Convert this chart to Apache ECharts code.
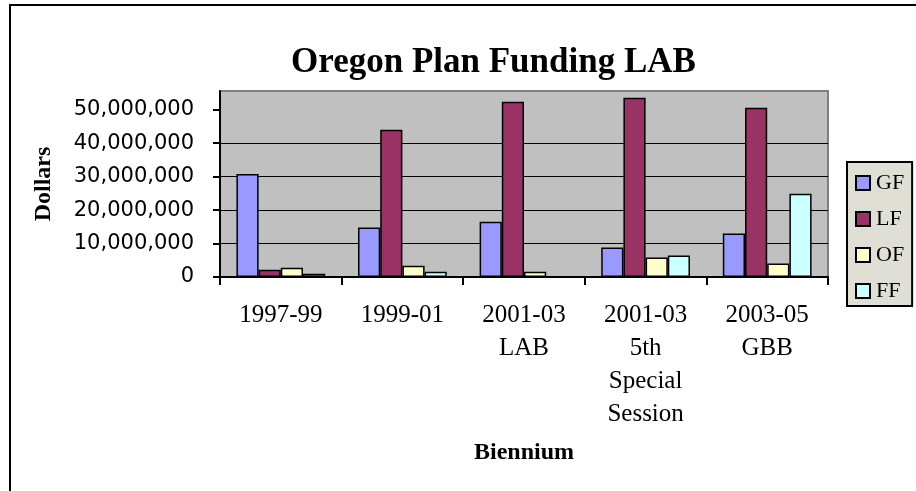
<!DOCTYPE html>
<html>
<head>
<meta charset="utf-8">
<script src="https://cdn.jsdelivr.net/npm/echarts@6/dist/echarts.min.js"></script>
<style>
  html, body { margin: 0; padding: 0; background: #fff; }
  #chart { width: 916px; height: 491px; }
</style>
</head>
<body>
<div id="chart"></div>
<script>
const categories = ['1997-99', '1999-01', '2001-03\nLAB', '2001-03\n5th\nSpecial\nSession', '2003-05\nGBB'];
const seriesNames = ['GF', 'LF', 'OF', 'FF'];
const gf = [30800000, 14800000, 16500000, 8800000, 13000000];
const lf = [2200000, 44000000, 52400000, 53600000, 50600000];
const of = [2800000, 3400000, 1600000, 5800000, 4000000];
const ff = [1000000, 1600000, 0, 6400000, 24900000];
const yTicks = [0, 10000000, 20000000, 30000000, 40000000, 50000000];

const colors = ['#9999ff', '#993366', '#ffffcc', '#ccffff'];
const serif = '"Liberation Serif", "Times New Roman", serif';

const chart = echarts.init(document.getElementById('chart'));

const makeSeries = (name, data, i) => ({
  name: name,
  type: 'bar',
  data: data,
  barGap: '0%',
  barCategoryGap: '27%',
  itemStyle: { color: colors[i], borderColor: '#000', borderWidth: 1.5 }
});

const option = {
  animation: false,
  backgroundColor: '#fff',
  graphic: [{
    type: 'rect',
    shape: { x: 10, y: 5, width: 1000, height: 1000 },
    style: { fill: 'none', stroke: '#000', lineWidth: 2 },
    silent: true
  }],
  title: {
    text: 'Oregon Plan Funding LAB',
    left: 286,
    top: 40,
    textStyle: { fontFamily: serif, fontSize: 35, fontWeight: 'bold', color: '#000' }
  },
  legend: {
    orient: 'vertical',
    left: 847,
    top: 162,
    padding: [10, 8, 4, 8],
    itemWidth: 14,
    itemHeight: 14,
    itemGap: 14,
    icon: 'rect',
    backgroundColor: '#e0dfd6',
    borderColor: '#000',
    borderWidth: 2,
    data: seriesNames,
    textStyle: { fontFamily: serif, fontSize: 22, color: '#000', padding: [0, 0, 0, 1] }
  },
  grid: {
    show: true,
    left: 220,
    top: 91,
    width: 608,
    height: 186,
    backgroundColor: '#c0c0c0',
    borderColor: '#808080',
    borderWidth: 2
  },
  xAxis: {
    type: 'category',
    data: categories,
    name: 'Biennium',
    nameLocation: 'middle',
    nameGap: 164,
    nameTextStyle: { fontFamily: serif, fontSize: 24, fontWeight: 'bold', color: '#000' },
    axisLine: { lineStyle: { color: '#000', width: 2 } },
    axisTick: { show: true, length: 8, lineStyle: { color: '#000', width: 2 } },
    axisLabel: {
      interval: 0,
      margin: 22,
      fontFamily: serif,
      fontSize: 25,
      lineHeight: 33,
      color: '#000'
    }
  },
  yAxis: {
    type: 'value',
    min: 0,
    max: 55600000,
    interval: 10000000,
    name: 'Dollars',
    nameLocation: 'middle',
    nameGap: 164,
    nameTextStyle: { fontFamily: serif, fontSize: 24, fontWeight: 'bold', color: '#000' },
    axisLine: { show: true, lineStyle: { color: '#000', width: 2 } },
    axisTick: { show: true, length: 7, lineStyle: { color: '#000', width: 2 }, customValues: yTicks },
    axisLabel: {
      margin: 26,
      fontFamily: '"DejaVu Sans", sans-serif',
      fontSize: 21,
      color: '#000',
      customValues: yTicks,
      formatter: v => v.toLocaleString('en-US')
    },
    splitLine: { show: true, showMaxLine: false, lineStyle: { color: '#000', width: 1 } }
  },
  series: [
    makeSeries('GF', gf, 0),
    makeSeries('LF', lf, 1),
    makeSeries('OF', of, 2),
    makeSeries('FF', ff, 3)
  ]
};

chart.setOption(option);
</script>
</body>
</html>
